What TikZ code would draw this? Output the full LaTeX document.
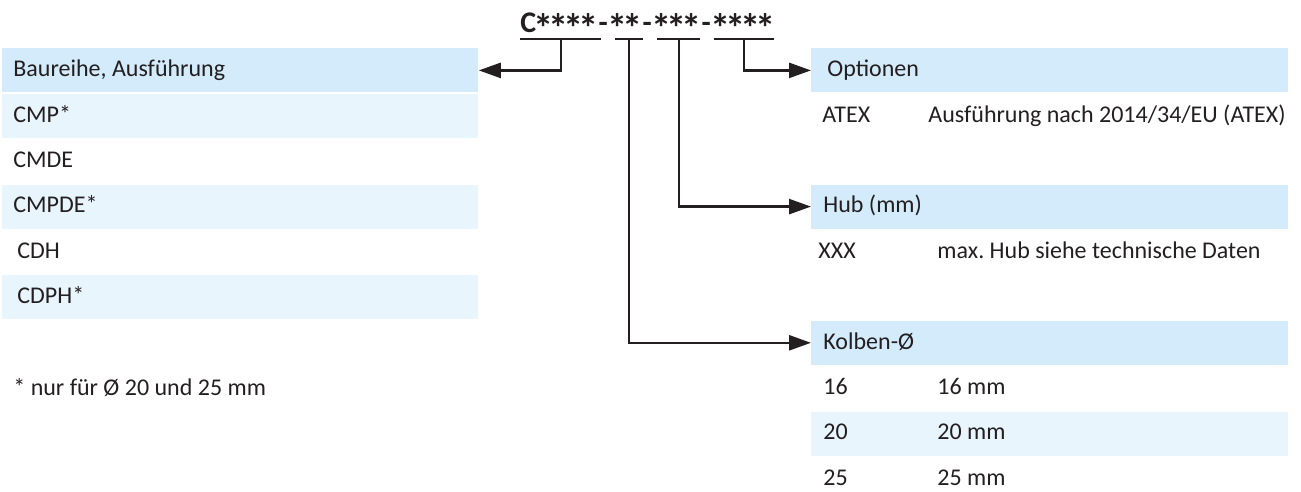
\documentclass[tikz,border=0pt]{standalone}
\usepackage{graphicx}
\usepackage{fontspec}
\setmainfont{Carlito}
\usetikzlibrary{arrows.meta}
\definecolor{hdrblue}{RGB}{211,235,250}
\definecolor{bandblue}{RGB}{232,245,253}
\definecolor{ink}{RGB}{35,31,32}
\newcommand\codeast{\makebox[7.5pt]{\raisebox{-5pt}{\scalebox{1.35}{*}}}}
\newcommand\codedash{\makebox[7pt]{-}}
\frenchspacing

\begin{document}
\begin{tikzpicture}[x=0.5pt,y=-0.5pt,font=\fontsize{12}{14}\selectfont,text=ink]
		\tikzstyle{hdr} = [anchor=north west, fill=hdrblue, minimum height=22pt, text height=1.6ex, text depth=.3ex, inner ysep=0pt, text width=227pt, inner xsep=5.5pt, align=flush left]
		\tikzstyle{band} = [hdr, fill=bandblue]
		\tikzstyle{plain} = [hdr, fill=none]
		\tikzstyle{indent} = [text width=223pt, inner xsep=7.5pt]
		\tikzstyle{rightcol} = [text width=226.5pt, inner xsep=6pt]
		\tikzstyle{code} = [draw=ink, line width=1.3pt]
		\tikzstyle{pointer} = [draw=ink, line width=1.3pt, -{Triangle[length=11pt,width=7.5pt]}]
		\useasboundingbox (0,0) rectangle (1301,492);
		% type code
		\node [anchor=base west, inner sep=0, font=\fontsize{15}{18}\selectfont\bfseries] (typecode) at (520,33) {C\codeast\codeast\codeast\codeast\codedash\codeast\codeast\codedash\codeast\codeast\codeast\codedash\codeast\codeast\codeast\codeast};
		\coordinate (u1a) at (520,39); \coordinate (u1b) at (601,39);
		\coordinate (u2a) at (615,39); \coordinate (u2b) at (643,39);
		\coordinate (u3a) at (657,39); \coordinate (u3b) at (700,39);
		\coordinate (u4a) at (714,39); \coordinate (u4b) at (774,39);
		\draw [code] (u1a) -- (u1b);
		\draw [code] (u2a) -- (u2b);
		\draw [code] (u3a) -- (u3b);
		\draw [code] (u4a) -- (u4b);
		\coordinate (b1) at (561,39);
		\coordinate (b2) at (629,39);
		\coordinate (b3) at (679,39);
		\coordinate (b4) at (744,39);
		% left table
		\node [hdr] (series) at (2,48) {Baureihe, Ausführung};
		\node [band] (cmp) at (2,93.4) {CMP*};
		\node [plain] (cmde) at (2,138.8) {CMDE};
		\node [band] (cmpde) at (2,184.2) {CMPDE*};
		\node [plain, indent] (cdh) at (2,229.6) {CDH};
		\node [band, indent] (cdph) at (2,275) {CDPH*};
		\node [anchor=west, inner sep=0] (note) at (13,388) {* nur für Ø 20 und 25 mm};
		% right tables
		\node [hdr, text width=222.5pt, inner xsep=8pt] (opt) at (811,48) {Optionen};
		\node [plain, text width=227.5pt] (atex) at (811,93.4) {\mbox{\makebox[53pt][l]{ATEX}Ausführung nach 2014/34/EU (ATEX)}};
		\node [hdr, rightcol] (hub) at (811,184.2) {Hub (mm)};
		\node [plain, text width=231.5pt, inner xsep=3.5pt] (xxx) at (811,229.6) {\makebox[59.5pt][l]{XXX}max. Hub siehe technische Daten};
		\node [hdr, rightcol] (kolben) at (811,320.4) {Kolben-Ø};
		\node [plain, rightcol] (d16) at (811,365.8) {\makebox[57pt][l]{16}16 mm};
		\node [band, rightcol] (d20) at (811,411.2) {\makebox[57pt][l]{20}20 mm};
		\node [plain, rightcol] (d25) at (811,456.6) {\makebox[57pt][l]{25}25 mm};
		% connectors
		\draw [pointer] (b1) |- (series.east);
		\draw [pointer] (b4) |- (opt.west);
		\draw [pointer] (b3) |- (hub.west);
		\draw [pointer] (b2) |- (kolben.west);
\end{tikzpicture}
\end{document}
